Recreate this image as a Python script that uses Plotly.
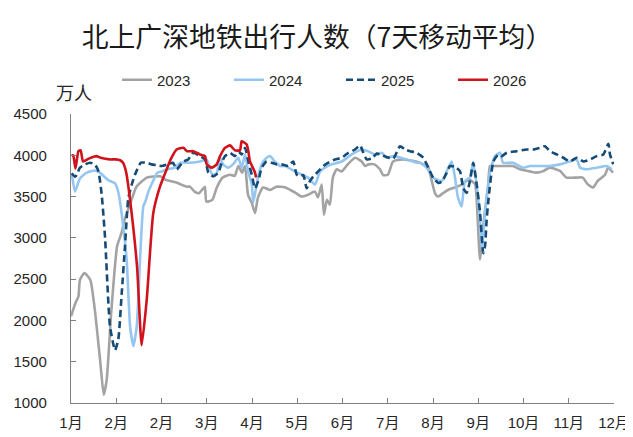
import plotly.graph_objects as go

# ---- data (x = day of year, y = 万人, 7-day moving average) ----
days_2023 = [0, 3, 5, 6, 9, 13, 16, 19.5, 22, 24, 27, 31, 34, 36, 40, 44, 51, 60, 64, 71, 74, 78, 80, 83, 86, 88, 90,
             91, 95, 98, 102, 107, 110, 112.5, 115, 117, 119, 121.5, 123.7, 125.7, 129, 134, 138, 144, 151, 155, 159,
             164, 166, 168.5, 170, 172, 174, 176, 178.6, 182, 186, 191, 195.4, 197.6, 200, 204, 207.7, 209.8, 213,
             216.5, 223, 232, 237, 240, 242.5, 244.7, 246.7, 250, 253.4, 258, 262.6, 266, 268.2, 271.6, 273, 274.9,
             277, 280.5, 281.6, 283.7, 290, 297, 301.8, 308.5, 313, 317, 322, 328.7, 333, 340, 344, 347.5, 351, 354,
             359, 361, 364.3]
vals_2023 = [2050, 2210, 2290, 2490, 2575, 2490, 2130, 1530, 1100, 1280, 2090, 2900, 3060, 3220, 3425, 3620, 3730, 3745,
             3700, 3670, 3645, 3620, 3620, 3560, 3540, 3580, 3620, 3440, 3460, 3610, 3730, 3765, 3750, 3870, 3790, 3870,
             3520, 3425, 3300, 3490, 3610, 3580, 3620, 3610, 3545, 3500, 3520, 3560, 3490, 3645, 3280, 3460, 3400, 3730,
             3830, 3805, 3890, 3970, 3925, 3870, 3890, 3890, 3830, 3760, 3765, 3925, 3950, 3925, 3890, 3860, 3690, 3540,
             3500, 3540, 3580, 3610, 3645, 3690, 3700, 3650, 3365, 2740, 3140, 3650, 3870, 3870, 3870, 3870, 3830, 3805,
             3790, 3805, 3850, 3810, 3730, 3730, 3730, 3645, 3610, 3690, 3765, 3850, 3790]

days_2024 = [0.5, 2.7, 6, 10.6, 16, 20, 25, 29.6, 32, 34, 37.4, 39.7, 41.9, 44.2, 46.4, 48.6, 50, 52, 55.5, 58, 61, 65,
             70, 73.3, 80, 86.7, 91.2, 93, 95, 97.9, 100.2, 102.2, 105.5, 108.9, 112.5, 114.7, 117, 119, 121.5, 122.5,
             124, 125.7, 128.2, 131.5, 133.8, 137, 140.5, 143.8, 150.6, 155, 159.3, 164, 167.4, 170.7, 175.2, 182,
             188.7, 195.4, 199.6, 204.3, 208.9, 212.2, 216.5, 225.7, 232.4, 234.6, 239, 243.3, 248, 250, 252.5, 255.9,
             258.1, 260.1, 262.6, 264.8, 268.2, 270.3, 272.7, 274.9, 276.1, 278.3, 281.6, 285, 288.4, 290.4, 297.1,
             303.8, 308.5, 315.3, 322, 328.7, 335.4, 339.9, 342.2, 346.6, 353.4, 360.1, 363.5]
vals_2024 = [3780, 3560, 3720, 3790, 3815, 3780, 3700, 3660, 3540, 3300, 2740, 1930, 1690, 1930, 2740, 3380, 3440, 3560,
             3700, 3790, 3805, 3830, 3850, 3910, 3910, 3925, 3950, 3850, 3765, 3780, 3970, 3890, 3850, 3890, 3970, 3850,
             4010, 3805, 3645, 3430, 3560, 3730, 3890, 3970, 3990, 3925, 3870, 3870, 3805, 3765, 3730, 3645, 3805, 3850,
             3890, 3925, 4010, 4070, 4050, 4010, 4030, 3970, 3990, 3950, 3910, 3910, 3850, 3730, 3690, 3700, 3805, 3925,
             3730, 3490, 3380, 3690, 3730, 3910, 3640, 3220, 2860, 3300, 3790, 3990, 4030, 3910, 3910, 3850, 3870, 3870,
             3870, 3890, 3925, 3950, 3850, 3830, 3850, 3870, 3830]

days_2025 = [0.5, 2.7, 3.8, 6, 9.4, 12.8, 16, 18.4, 20.6, 22.9, 26.2, 29.6, 31.8, 34.1, 36.3, 38.5, 40.8, 43, 47, 50.9,
             54.2, 57.6, 61, 65.2, 68.6, 71, 75.5, 78.8, 82.2, 86.7, 90.1, 92.3, 95.7, 99, 101.3, 103.5, 106.9, 110.2,
             112.5, 114.7, 117, 119.2, 121.5, 123.7, 125.9, 128.2, 131.5, 134.9, 138.3, 141.6, 146.1, 149.4, 151.7,
             153.9, 156.2, 158.4, 160.7, 162.9, 166.2, 169.6, 173, 177.5, 182, 186.4, 190.9, 194.3, 196.5, 198.8, 202.1,
             205.5, 208.9, 212, 216.6, 221.2, 224.5, 227.9, 232.4, 236.8, 240.2, 243.5, 246.9, 249.2, 252.5, 254.8,
             258.1, 261.5, 263.7, 266, 268.2, 270.4, 272.7, 274.9, 277.1, 278.3, 279.4, 280.5, 283.9, 287.2, 289.5,
             292.9, 299.6, 306.3, 310.8, 315.3, 318.6, 322, 326.5, 330.9, 335.4, 339.9, 344.4, 348.9, 353.4, 357.8,
             361.2, 362.3, 364.5]
vals_2025 = [3780, 3740, 3760, 3850, 3890, 3910, 3890, 3810, 3530, 3000, 1930, 1640, 1770, 2330, 2900, 3480, 3645, 3765,
             3910, 3910, 3890, 3880, 3870, 3890, 3910, 3830, 3925, 3950, 4030, 3990, 3950, 3790, 3745, 3790, 3910, 3990,
             4030, 3990, 4050, 4010, 4090, 3925, 3765, 3600, 3690, 3850, 3925, 3910, 3890, 3890, 3870, 3925, 3765, 3745,
             3760, 3600, 3690, 3745, 3805, 3870, 3910, 3950, 3970, 4030, 4070, 4120, 4030, 3950, 3960, 4020, 4000, 3980,
             3960, 4110, 4070, 4050, 4030, 3970, 3850, 3725, 3665, 3680, 3785, 3870, 3860, 3805, 3600, 3545, 3690, 3910,
             3645, 3320, 2815, 2900, 3220, 3440, 3925, 4010, 3990, 4030, 4050, 4070, 4070, 4090, 4110, 4050, 4010, 3970,
             3925, 3970, 3925, 3950, 3990, 4010, 4140, 4010, 3890]

days_2026 = [0.5, 1.5, 3, 5, 6.5, 8.1, 12, 17, 20, 26, 30, 33, 35, 37, 39.7, 44.4, 47.5, 50.9, 55.3, 59.8, 64.3, 67, 71,
             75.5, 78, 82.2, 86.7, 90.1, 91.2, 94.6, 97.9, 100.2, 103.5, 106.9, 110.2, 113.6, 114.7, 118.1, 119.2,
             120.3, 123.7, 124.4]
vals_2026 = [4000, 4000, 3840, 4050, 4060, 3925, 3960, 3990, 3970, 3950, 3950, 3940, 3910, 3800, 3460, 2650, 1700, 2250,
             3300, 3620, 3830, 3950, 4070, 4090, 4050, 4050, 4010, 3990, 3890, 3850, 3890, 3990, 4090, 4120, 4060, 4060,
             4170, 4130, 4050, 3925, 3790, 3730]

series_names = ["2023", "2024", "2025", "2026"]
tick_labels = ["1月", "2月", "2月", "3月", "4月", "5月", "6月", "7月", "8月", "9月", "10月", "11月", "12月"]
y_ticks = [1000, 1500, 2000, 2500, 3000, 3500, 4000, 4500]

# ---- styling ----
colors = ["#A3A3A3", "#95C6F2", "#164B76", "#D0121B"]
dashes = ["solid", "solid", "7px,4px", "solid"]
FONT = "Liberation Sans, Arial, Noto Sans CJK SC, sans-serif"

fig = go.Figure()
for name, xs, ys, c, d in zip(series_names,
                              [days_2023, days_2024, days_2025, days_2026],
                              [vals_2023, vals_2024, vals_2025, vals_2026],
                              colors, dashes):
    fig.add_trace(go.Scatter(x=xs, y=ys, mode="lines", name=name,
                             line=dict(color=c, width=2.6, dash=d, shape="spline", smoothing=0.5)))

tick_vals = [i * 365 / 12 for i in range(13)]

# page body adds an 8px offset, so the figure is 8px smaller and shifted
W, H = 625, 429
fig.update_layout(
    width=W, height=H,
    margin=dict(l=63, r=19, t=106, b=34, autoexpand=False),
    paper_bgcolor="white", plot_bgcolor="white",
    font=dict(family=FONT, size=15, color="#262626"),
    title=dict(text="北上广深地铁出行人数（7天移动平均）", x=309 / W, xanchor="center",
               y=1 - 30 / H, yanchor="middle",
               font=dict(family="Noto Sans CJK SC, sans-serif", size=26.8, color="#1a1a1a")),
    showlegend=True,
    legend=dict(orientation="h", x=46 / 543, xanchor="left", y=1 + (114 - 80) / 289, yanchor="middle",
                font=dict(size=15, family=FONT), entrywidth=67, entrywidthmode="pixels",
                bgcolor="rgba(0,0,0,0)", itemclick=False),
    xaxis=dict(range=[0, 365], tickvals=tick_vals, ticktext=tick_labels, showgrid=False, zeroline=False,
               showline=True, linecolor="#808080", linewidth=1.2, ticks="inside", ticklen=5, tickcolor="#808080",
               tickfont=dict(size=15, family=FONT), ticklabelstandoff=6),
    yaxis=dict(range=[1000, 4500], tickvals=y_ticks, showgrid=False, zeroline=False,
               showline=True, linecolor="#808080", linewidth=1.2, ticks="inside", ticklen=5, tickcolor="#808080",
               tickfont=dict(size=15, family=FONT), ticklabelstandoff=20),
    annotations=[dict(text="万人", xref="paper", yref="paper", x=(74 - 71) / 543, y=1 + (114 - 92) / 289,
                      xanchor="center", yanchor="middle", showarrow=False,
                      font=dict(size=18, family="Noto Sans CJK SC, sans-serif", color="#262626"))],
)

fig.write_html("out.html")
